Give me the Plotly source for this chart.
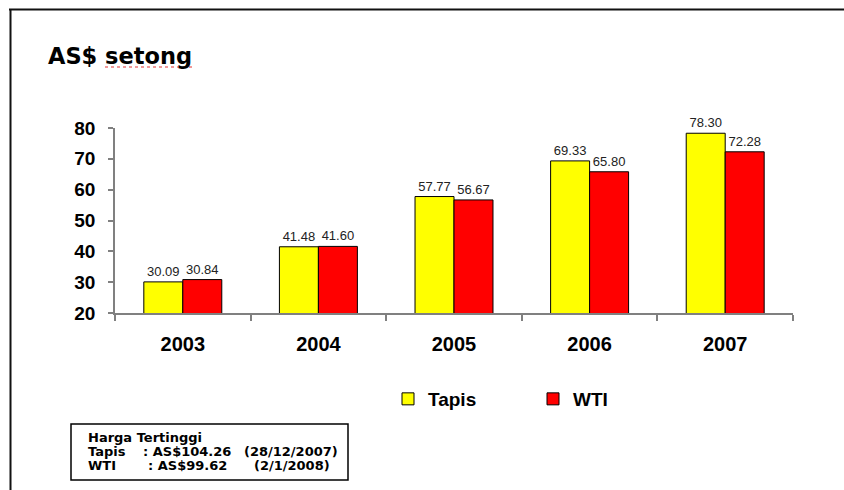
import plotly.graph_objects as go

years = ["2003", "2004", "2005", "2006", "2007"]
tapis = [30.09, 41.48, 57.77, 69.33, 78.30]
wti = [30.84, 41.60, 56.67, 65.80, 72.28]
series_names = ["Tapis", "WTI"]
title_text = "AS$ setong"
box_title = "Harga Tertinggi"
box_rows = [("Tapis", ": AS$104.26", "(28/12/2007)"), ("WTI", ": AS$99.62", "(2/1/2008)")]

W, H = 844, 490
L, R, T, B = 115, 51, 128, 177
PW, PH = W - L - R, H - T - B
FONT = "Liberation Sans, Arial, sans-serif"
WIDE = "DejaVu Sans, Verdana, sans-serif"


def px(x):
    return (x - L) / PW


def py(y):
    return (H - B - y) / PH


fig = go.Figure()
fig.add_trace(go.Bar(
    x=years, y=tapis, name=series_names[0],
    marker=dict(color="#FFFF00", line=dict(color="#000000", width=1)),
    texttemplate="%{y:.2f}", textposition="outside",
    textfont=dict(size=13, color="#222222", family=FONT), cliponaxis=False,
))
fig.add_trace(go.Bar(
    x=years, y=wti, name=series_names[1],
    marker=dict(color="#FF0000", line=dict(color="#000000", width=1)),
    texttemplate="%{y:.2f}", textposition="outside",
    textfont=dict(size=13, color="#222222", family=FONT), cliponaxis=False,
))

annotations = [
    dict(text="<b>" + title_text + "</b>", x=px(46), y=py(56), xref="paper", yref="paper",
         xanchor="left", yanchor="middle", showarrow=False,
         font=dict(size=22.5, color="#000000", family=WIDE)),
    dict(text="<b>" + box_title + "</b>", x=px(86), y=py(437), xref="paper", yref="paper",
         xanchor="left", yanchor="middle", showarrow=False,
         font=dict(size=13, color="#000000", family=WIDE)),
]
row_y = [451, 465]
col_x = [(86, 141, 242), (86, 146, 252)]
for (name, val, date), yy, cx in zip(box_rows, row_y, col_x):
    for txt, xx in zip((name, val, date), cx):
        annotations.append(dict(text="<b>" + txt + "</b>", x=px(xx), y=py(yy), xref="paper", yref="paper",
                                xanchor="left", yanchor="middle", showarrow=False,
                                font=dict(size=13, color="#000000", family=WIDE)))

shapes = [
    dict(type="line", xref="paper", yref="paper", x0=px(9), x1=px(846), y0=py(9.5), y1=py(9.5),
         line=dict(color="#111111", width=2)),
    dict(type="line", xref="paper", yref="paper", x0=px(10.5), x1=px(10.5), y0=py(9), y1=py(492),
         line=dict(color="#111111", width=2)),
    dict(type="rect", xref="paper", yref="paper", x0=px(71), x1=px(348), y0=py(424), y1=py(480),
         line=dict(color="#000000", width=1.5)),
    dict(type="line", xref="paper", yref="paper", x0=px(105), x1=px(193), y0=py(67), y1=py(67),
         line=dict(color="#E03030", width=1, dash="dot")),
]

fig.update_layout(
    width=W, height=H,
    margin=dict(l=L, r=R, t=T, b=B, pad=0),
    paper_bgcolor="#FFFFFF", plot_bgcolor="#FFFFFF",
    font=dict(family=FONT, color="#000000"),
    barmode="group", bargap=0.425, bargroupgap=0,
    showlegend=True,
    legend=dict(orientation="h", x=px(388), y=py(399), xanchor="left", yanchor="middle",
                font=dict(size=19, family=FONT, color="#000000", weight="bold"),
                entrywidth=100, bgcolor="rgba(0,0,0,0)"),
    annotations=annotations, shapes=shapes,
)
fig.update_xaxes(type="category", tickson="boundaries", ticks="outside", ticklen=6,
                 tickcolor="#808080", tickwidth=1.5, showline=True, linecolor="#808080", linewidth=1.5,
                 showgrid=False, ticklabelstandoff=12,
                 tickfont=dict(size=20, family=FONT, color="#000000", weight="bold"))
fig.update_yaxes(range=[20, 80], dtick=10, ticks="outside", ticklen=5, tickcolor="#808080",
                 tickwidth=1.5, showline=True, linecolor="#808080", linewidth=1.5,
                 showgrid=False, zeroline=False, ticklabelstandoff=9,
                 tickfont=dict(size=19, family=FONT, color="#000000", weight="bold"))

fig.write_html("out.html", config={"displayModeBar": False},
               post_script="document.body.style.margin='0';document.body.style.padding='0';")
